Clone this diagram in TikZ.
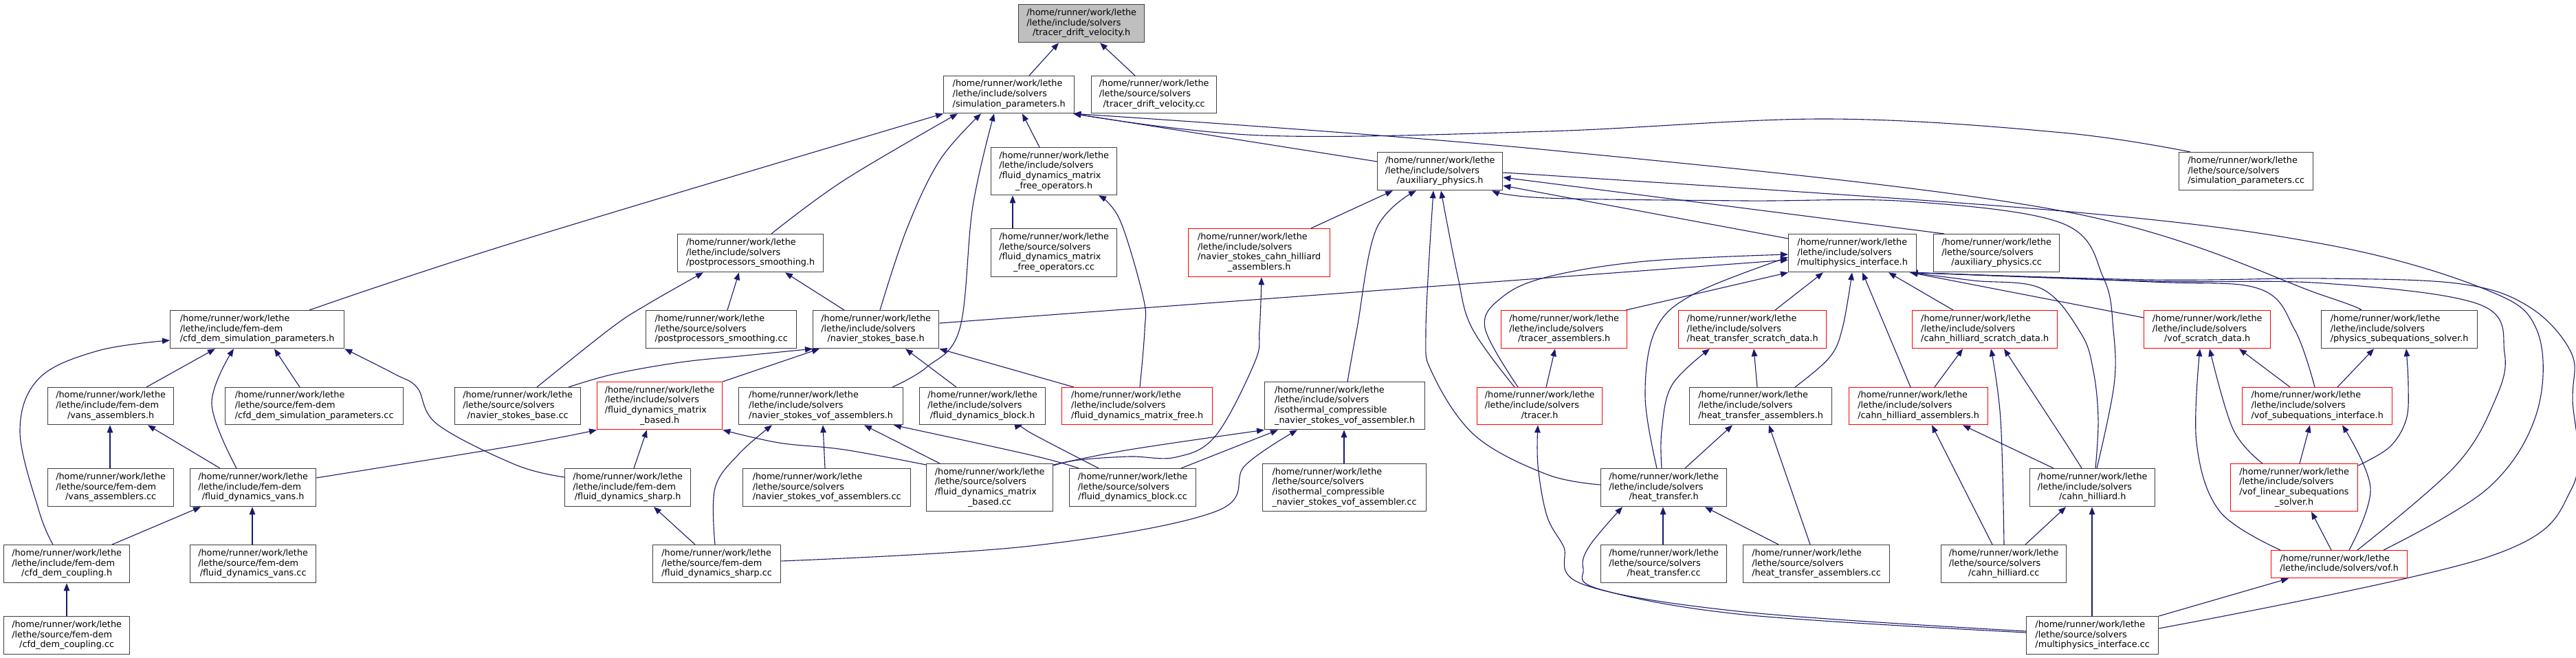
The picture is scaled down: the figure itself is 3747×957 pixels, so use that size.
\documentclass[tikz,border=0pt]{standalone}
\usepackage{fontspec}
\setmainfont{DejaVu Sans}
\usetikzlibrary{arrows.meta}
\definecolor{eblue}{HTML}{191970}
\definecolor{bgrey}{HTML}{404040}
\definecolor{fgrey}{HTML}{BFBFBF}
\newcommand\Lthree[2]{\begin{tabular}{@{}l@{}}/home/runner/work/lethe\\#1\\\multicolumn{1}{@{}c@{}}{#2}\end{tabular}}
\newcommand\Lfour[3]{\begin{tabular}{@{}l@{}}/home/runner/work/lethe\\#1\\#2\\\multicolumn{1}{@{}c@{}}{#3}\end{tabular}}
\newcommand\Ltwo[1]{\begin{tabular}{@{}l@{}}/home/runner/work/lethe\\\multicolumn{1}{@{}c@{}}{#1}\end{tabular}}
\pgfdeclarelayer{bg}
\pgfdeclarelayer{edges}
\pgfsetlayers{bg,edges,main}
\begin{document}
\begin{tikzpicture}[x=1pt,y=-1pt,
 box/.style={draw=bgrey, line width=1.3pt, fill=white, inner sep=0pt, anchor=north west,
   font=\fontsize{12.8}{14.7}\selectfont},
 rbox/.style={box, draw=red},
 wh/.style 2 args={minimum width=#1pt, minimum height=#2pt},
 dep/.style={draw=eblue, line width=1.1pt, -{Triangle[length=11pt,width=8.5pt]}},
 sm/.style={smooth, tension=0.6}]
\begin{pgfonlayer}{bg}
\fill[white] (0,0) rectangle (3747,957);
\end{pgfonlayer}
\useasboundingbox (0,0) rectangle (3747,957);

% nodes
\node[box, fill=fgrey, wh={183}{55}] (TDV) at (1481,6) {\Lthree{/lethe/include/solvers}{/tracer\_drift\_velocity.h}};
\node[box, wh={190}{54}] (SP) at (1372,110) {\Lthree{/lethe/include/solvers}{/simulation\_parameters.h}};
\node[box, wh={182}{54}] (TDVcc) at (1587,110) {\Lthree{/lethe/source/solvers}{/tracer\_drift\_velocity.cc}};
\node[box, wh={183}{69}] (FDMFO) at (1441,214) {\Lfour{/lethe/include/solvers}{/fluid\_dynamics\_matrix}{\_free\_operators.h}};
\node[box, wh={183}{70}] (FDMFOcc) at (1441,332) {\Lfour{/lethe/source/solvers}{/fluid\_dynamics\_matrix}{\_free\_operators.cc}};
\node[box, wh={182}{55}] (AP) at (2003,221) {\Lthree{/lethe/include/solvers}{/auxiliary\_physics.h}};
\node[box, wh={195}{55}] (SPcc) at (3169,221) {\Lthree{/lethe/source/solvers}{/simulation\_parameters.cc}};
\node[box, wh={212}{55}] (PPS) at (985,340) {\Lthree{/lethe/include/solvers}{/postprocessors\_smoothing.h}};
\node[rbox, wh={206}{70}] (NSCHA) at (1728,332) {\Lfour{/lethe/include/solvers}{/navier\_stokes\_cahn\_hilliard}{\_assemblers.h}};
\node[box, wh={186}{55}] (MI) at (2601,340) {\Lthree{/lethe/include/solvers}{/multiphysics\_interface.h}};
\node[box, wh={183}{55}] (APcc) at (2812,340) {\Lthree{/lethe/source/solvers}{/auxiliary\_physics.cc}};
\node[box, wh={253}{55}] (CDSP) at (247,451) {\Lthree{/lethe/include/fem-dem}{/cfd\_dem\_simulation\_parameters.h}};
\node[box, wh={219}{55}] (PPScc) at (939,451) {\Lthree{/lethe/source/solvers}{/postprocessors\_smoothing.cc}};
\node[box, wh={183}{55}] (NSB) at (1182,451) {\Lthree{/lethe/include/solvers}{/navier\_stokes\_base.h}};
\node[rbox, wh={183}{55}] (TA) at (2183,451) {\Lthree{/lethe/include/solvers}{/tracer\_assemblers.h}};
\node[rbox, wh={215}{55}] (HTSD) at (2441,451) {\Lthree{/lethe/include/solvers}{/heat\_transfer\_scratch\_data.h}};
\node[rbox, wh={211}{55}] (CHSD) at (2781,451) {\Lthree{/lethe/include/solvers}{/cahn\_hilliard\_scratch\_data.h}};
\node[rbox, wh={184}{55}] (VSD) at (3118,451) {\Lthree{/lethe/include/solvers}{/vof\_scratch\_data.h}};
\node[box, wh={227}{55}] (PSS) at (3376,451) {\Lthree{/lethe/include/solvers}{/physics\_subequations\_solver.h}};
\node[box, wh={183}{54}] (VA) at (69,563) {\Lthree{/lethe/include/fem-dem}{/vans\_assemblers.h}};
\node[box, wh={259}{54}] (CDSPcc) at (327,563) {\Lthree{/lethe/source/fem-dem}{/cfd\_dem\_simulation\_parameters.cc}};
\node[box, wh={183}{54}] (NSBcc) at (661,563) {\Lthree{/lethe/source/solvers}{/navier\_stokes\_base.cc}};
\node[rbox, wh={182}{69}] (FDMB) at (868,555) {\Lfour{/lethe/include/solvers}{/fluid\_dynamics\_matrix}{\_based.h}};
\node[box, wh={239}{54}] (NSVA) at (1074,563) {\Lthree{/lethe/include/solvers}{/navier\_stokes\_vof\_assemblers.h}};
\node[box, wh={183}{54}] (FDB) at (1337,563) {\Lthree{/lethe/include/solvers}{/fluid\_dynamics\_block.h}};
\node[rbox, wh={219}{54}] (FDMF) at (1544,563) {\Lthree{/lethe/include/solvers}{/fluid\_dynamics\_matrix\_free.h}};
\node[box, wh={233}{69}] (ICNSVA) at (1839,555) {\Lfour{/lethe/include/solvers}{/isothermal\_compressible}{\_navier\_stokes\_vof\_assembler.h}};
\node[rbox, wh={182}{54}] (TR) at (2148,563) {\Lthree{/lethe/include/solvers}{/tracer.h}};
\node[box, wh={207}{54}] (HTA) at (2457,563) {\Lthree{/lethe/include/solvers}{/heat\_transfer\_assemblers.h}};
\node[rbox, wh={202}{54}] (CHA) at (2689,563) {\Lthree{/lethe/include/solvers}{/cahn\_hilliard\_assemblers.h}};
\node[rbox, wh={218}{54}] (VSI) at (3261,563) {\Lthree{/lethe/include/solvers}{/vof\_subequations\_interface.h}};
\node[box, wh={183}{55}] (VAcc) at (69,681) {\Lthree{/lethe/source/fem-dem}{/vans\_assemblers.cc}};
\node[box, wh={183}{55}] (FDV) at (276,681) {\Lthree{/lethe/include/fem-dem}{/fluid\_dynamics\_vans.h}};
\node[box, wh={183}{55}] (FDS) at (821,681) {\Lthree{/lethe/include/fem-dem}{/fluid\_dynamics\_sharp.h}};
\node[box, wh={244}{55}] (NSVAcc) at (1080,681) {\Lthree{/lethe/source/solvers}{/navier\_stokes\_vof\_assemblers.cc}};
\node[box, wh={184}{69}] (FDMBcc) at (1347,674) {\Lfour{/lethe/source/solvers}{/fluid\_dynamics\_matrix}{\_based.cc}};
\node[box, wh={184}{55}] (FDBcc) at (1555,681) {\Lthree{/lethe/source/solvers}{/fluid\_dynamics\_block.cc}};
\node[box, wh={238}{69}] (ICNSVAcc) at (1836,674) {\Lfour{/lethe/source/solvers}{/isothermal\_compressible}{\_navier\_stokes\_vof\_assembler.cc}};
\node[box, wh={183}{55}] (HT) at (2328,681) {\Lthree{/lethe/include/solvers}{/heat\_transfer.h}};
\node[box, wh={182}{55}] (CH) at (2952,681) {\Lthree{/lethe/include/solvers}{/cahn\_hilliard.h}};
\node[rbox, wh={185}{69}] (VLSS) at (3244,674) {\Lfour{/lethe/include/solvers}{/vof\_linear\_subequations}{\_solver.h}};
\node[box, wh={183}{55}] (CDC) at (5,792) {\Lthree{/lethe/include/fem-dem}{/cfd\_dem\_coupling.h}};
\node[box, wh={183}{55}] (FDVcc) at (276,792) {\Lthree{/lethe/source/fem-dem}{/fluid\_dynamics\_vans.cc}};
\node[box, wh={186}{55}] (FDScc) at (949,792) {\Lthree{/lethe/source/fem-dem}{/fluid\_dynamics\_sharp.cc}};
\node[box, wh={183}{55}] (HTcc) at (2328,792) {\Lthree{/lethe/source/solvers}{/heat\_transfer.cc}};
\node[box, wh={213}{55}] (HTAcc) at (2535,792) {\Lthree{/lethe/source/solvers}{/heat\_transfer\_assemblers.cc}};
\node[box, wh={182}{55}] (CHcc) at (2823,792) {\Lthree{/lethe/source/solvers}{/cahn\_hilliard.cc}};
\node[rbox, wh={198}{40}] (VOF) at (3303,800) {\Ltwo{/lethe/include/solvers/vof.h}};
\node[box, wh={183}{55}] (CDCcc) at (5,896) {\Lthree{/lethe/source/fem-dem}{/cfd\_dem\_coupling.cc}};
\node[box, wh={192}{55}] (MIcc) at (2947,896) {\Lthree{/lethe/source/solvers}{/multiphysics\_interface.cc}};

\begin{pgfonlayer}{edges}
% root
\draw[dep] ([xshift=125pt]SP.north west) -- ([xshift=59pt]TDV.south west);
\draw[dep] ([xshift=64pt]TDVcc.north west) -- ([xshift=119pt]TDV.south west);
% to SP
\draw[dep] plot[sm] coordinates {([xshift=203pt]CDSP.north west) (750,352) (SP.south west)};
\draw[dep] plot[sm] coordinates {([xshift=137pt]PPS.north west) (1228,262) ([xshift=21pt]SP.south west)};
\draw[dep] plot[sm] coordinates {([xshift=98pt]NSB.north west) (1319,333) (1367,233) ([xshift=55pt]SP.south west)};
\draw[dep] plot[sm] coordinates {([xshift=224pt]NSVA.north west) (1348,534) (1396,478) (1415,300) ([xshift=74pt]SP.south west)};
\draw[dep] ([xshift=71pt]FDMFO.north west) -- ([xshift=115pt]SP.south west);
\draw[dep] ([yshift=-14pt]AP.north west) -- ([xshift=-2pt]SP.south east);
\draw[dep] plot[sm] coordinates {([xshift=17pt]SPcc.north west) (3000,193) (2657,173) (2250,191) (1835,197) ([xshift=-2pt]SP.south east)};
\draw[dep] plot[sm] coordinates {([xshift=56pt]PSS.north west) (3380,430) (3000,307) (2250,218) ([xshift=-2pt]SP.south east)};
% to AP
\draw[dep] plot[sm] coordinates {([xshift=121pt]ICNSVA.north west) (1974,477) (2002,333) ([xshift=57pt]AP.south west)};
\draw[dep] ([xshift=179pt]NSCHA.north west) -- ([xshift=23pt]AP.south west);
\draw[dep] plot[sm] coordinates {([yshift=-24pt]HT.north west) (2250,690) (2146,634) (2084,544) (2074,480) ([xshift=82pt]AP.south west)};
\draw[dep] plot[sm] coordinates {([xshift=55pt]TR.north west) (2141,477) (2120,400) ([xshift=93pt]AP.south west)};
\draw[dep] plot[sm] coordinates {([xshift=98pt]CH.north west) (3075,560) (3074,480) (3060,405) (3000,325) (2776,293) (2537,292) (2250,288) ([xshift=167pt]AP.south west)};
\draw[dep] plot[sm] coordinates {([xshift=164pt]VOF.north west) (3619,710) (3690,600) (3690,480) (3613,420) (3380,355) (3000,307) (2250,255) ([yshift=-32pt]AP.north east)};
\draw[dep] ([xshift=16pt]APcc.north west) -- ([yshift=-37pt]AP.north east);
\draw[dep] ([yshift=-7pt]MI.north west) -- ([yshift=-49pt]AP.north east);
% to MI
\draw[dep] ([yshift=-19pt]NSB.north east) -- ([yshift=-38pt]MI.north west);
\draw[dep] plot[sm] coordinates {([xshift=60pt]TR.north west) (2160,477) (2184,433) (2250,403) (2393,380) ([yshift=-30pt]MI.north west)};
\draw[dep] plot[sm] coordinates {([xshift=82pt]HT.north west) (2393,577) (2408,480) (2465,427) ([yshift=-34pt]MI.north west)};
\draw[dep] ([xshift=182pt]TA.north west) -- (MI.south west);
\draw[dep] ([xshift=141pt]HTSD.north west) -- ([xshift=51pt]MI.south west);
\draw[dep] plot[sm] coordinates {([xshift=154pt]HTA.north west) (2661,520) (2680,477) ([xshift=93pt]MI.south west)};
\draw[dep] plot[sm] coordinates {([xshift=90pt]CHA.north west) (2743,477) ([xshift=108pt]MI.south west)};
\draw[dep] ([xshift=60pt]CHSD.north west) -- ([xshift=146pt]MI.south west);
\draw[dep] ([yshift=-11pt]VSD.north west) -- ([xshift=-10pt]MI.south east);
\draw[dep] plot[sm] coordinates {([xshift=106pt]VSI.north west) (3338,480) (3286,420) (3130,410) ([xshift=-10pt]MI.south east)};
\draw[dep] plot[sm] coordinates {([xshift=126pt]VOF.north west) (3572,677) (3630,580) (3643,513) (3607,443) (3380,412) (3130,409) ([xshift=-10pt]MI.south east)};
\draw[dep] plot[sm] coordinates {([yshift=-18pt]MIcc.north east) (3619,810) (3741,710) (3742,580) (3740,513) (3680,447) (3580,413) (3380,405) (3130,407) ([xshift=-10pt]MI.south east)};
\draw[dep] plot[sm] coordinates {([xshift=96pt]CH.north west) (3052,610) (3045,540) (3027,485) (2970,420) (2870,408) ([xshift=-10pt]MI.south east)};
% PSS
\draw[dep] ([xshift=139pt]VSI.north west) -- ([xshift=77pt]PSS.south west);
\draw[dep] plot[sm] coordinates {([yshift=-3pt]VLSS.north east) (3476,650) (3500,610) (3503,560) ([xshift=124pt]PSS.south west)};
% VSD
\draw[dep] plot[sm] coordinates {([xshift=14pt]VOF.north west) (3229,744) (3195,644) ([xshift=82pt]VSD.south west)};
\draw[dep] plot[sm] coordinates {([xshift=47pt]VLSS.north west) (3248,624) ([xshift=96pt]VSD.south west)};
\draw[dep] ([xshift=70pt]VSI.north west) -- ([xshift=139pt]VSD.south west);
% VSI, VLSS, VOF
\draw[dep] ([xshift=101pt]VLSS.north west) -- ([xshift=99pt]VSI.south west);
\draw[dep] plot[sm] coordinates {([xshift=114pt]VOF.north west) (3448,710) ([xshift=146pt]VSI.south west)};
\draw[dep] ([xshift=88pt]VOF.north west) -- ([xshift=118pt]VLSS.south west);
\draw[dep] (MIcc.north east) -- ([xshift=26pt]VOF.south west);
% CHSD, CHA, CH
\draw[dep] ([xshift=125pt]CHA.north west) -- ([xshift=74pt]CHSD.south west);
\draw[dep] plot[sm] coordinates {([xshift=92pt]CHcc.north west) (2910,610) ([xshift=115pt]CHSD.south west)};
\draw[dep] plot[sm] coordinates {([xshift=76pt]CH.north west) (3000,637) (2939,544) ([xshift=134pt]CHSD.south west)};
\draw[dep] ([xshift=75pt]CHcc.north west) -- ([xshift=121pt]CHA.south west);
\draw[dep] ([xshift=35pt]CH.north west) -- ([xshift=166pt]CHA.south west);
\draw[dep] ([xshift=123pt]CHcc.north west) -- ([xshift=53pt]CH.south west);
\draw[dep] ([xshift=96pt]MIcc.north west) -- ([xshift=91pt]CH.south west);
% HTSD, HTA, HT, TR, TA
\draw[dep] plot[sm] coordinates {([xshift=89pt]HT.north west) (2417,627) (2432,560) ([xshift=46pt]HTSD.south west)};
\draw[dep] ([xshift=99pt]HTA.north west) -- ([xshift=110pt]HTSD.south west);
\draw[dep] ([xshift=123pt]HT.north west) -- ([xshift=63pt]HTA.south west);
\draw[dep] ([xshift=98pt]HTAcc.north west) -- ([xshift=116pt]HTA.south west);
\draw[dep] plot[sm] coordinates {([yshift=-24pt]MIcc.north west) (2537,894) (2327,857) (2303,827) (2312,794) ([xshift=32pt]HT.south west)};
\draw[dep] ([xshift=91pt]HTcc.north west) -- ([xshift=91pt]HT.south west);
\draw[dep] ([xshift=52pt]HTAcc.north west) -- ([xshift=152pt]HT.south west);
\draw[dep] plot[sm] coordinates {([yshift=-22pt]MIcc.north west) (2537,890) (2303,850) (2274,794) (2250,750) (2237,677) ([xshift=89pt]TR.south west)};
\draw[dep] ([xshift=101pt]TR.north west) -- ([xshift=79pt]TA.south west);
% NSCHA, ICNSVA
\draw[dep] plot[sm] coordinates {([yshift=-3pt]FDMBcc.north east) (1569,669) (1643,664) (1710,665) (1768,634) (1825,527) (1832,480) ([xshift=107pt]NSCHA.south west)};
\draw[dep] plot[sm] coordinates {([yshift=-2pt]FDMBcc.north east) (1643,654) (ICNSVA.south west)};
\draw[dep] ([xshift=163pt]FDBcc.north west) -- ([xshift=20pt]ICNSVA.south west);
\draw[dep] plot[sm] coordinates {([yshift=-24pt]FDScc.north east) (1500,794) (1768,744) (1811,677) ([xshift=48pt]ICNSVA.south west)};
\draw[dep] ([xshift=119pt]ICNSVAcc.north west) -- ([xshift=116pt]ICNSVA.south west);
% NSVA, FDB
\draw[dep] plot[sm] coordinates {([xshift=91pt]FDScc.north west) (1040,710) (1075,660) ([xshift=49pt]NSVA.south west)};
\draw[dep] ([xshift=120pt]NSVAcc.north west) -- ([xshift=123pt]NSVA.south west);
\draw[dep] ([xshift=20pt]FDMBcc.north west) -- ([xshift=183pt]NSVA.south west);
\draw[dep] plot[sm] coordinates {([xshift=14pt]FDBcc.north west) (1500,662) ([xshift=226pt]NSVA.south west)};
\draw[dep] plot[sm] coordinates {([xshift=43pt]FDBcc.north west) (1500,630) ([xshift=150pt]FDB.south west)};
% FDMB, FDS
\draw[dep] plot[sm] coordinates {([yshift=-14pt]FDV.north east) (750,648) (FDMB.south west)};
\draw[dep] ([xshift=101pt]FDS.north west) -- ([xshift=73pt]FDMB.south west);
\draw[dep] plot[sm] coordinates {([yshift=-2pt]FDMBcc.north west) (1228,654) (1133,644) (FDMB.south east)};
\draw[dep] ([xshift=62pt]FDScc.north west) -- ([xshift=130pt]FDS.south west);
% NSB
\draw[dep] plot[sm] coordinates {([xshift=166pt]NSBcc.north west) (893,544) (989,527) (1085,517) (NSB.south west)};
\draw[dep] (FDMB.north east) -- ([xshift=10pt]NSB.south west);
\draw[dep] ([xshift=54pt]FDB.north west) -- ([xshift=135pt]NSB.south west);
\draw[dep] ([xshift=18pt]FDMF.north west) -- (NSB.south east);
% PPS
\draw[dep] plot[sm] coordinates {([xshift=120pt]NSBcc.north west) (889,477) (941,443) ([xshift=38pt]PPS.south west)};
\draw[dep] ([xshift=119pt]PPScc.north west) -- ([xshift=90pt]PPS.south west);
\draw[dep] ([xshift=46pt]NSB.north west) -- ([xshift=157pt]PPS.south west);
% FDMFO
\draw[dep] ([xshift=32pt]FDMFOcc.north west) -- ([xshift=32pt]FDMFO.south west);
\draw[dep] plot[sm] coordinates {([xshift=114pt]FDMF.north west) (1665,480) (1663,433) (1629,320) ([xshift=157pt]FDMFO.south west)};
% CDSP
\draw[dep] plot[sm] coordinates {([xshift=72pt]CDC.north west) (57,744) (29,627) (57,550) (143,510) ([yshift=-44pt]CDSP.north west)};
\draw[dep] ([xshift=144pt]VA.north west) -- ([xshift=66pt]CDSP.south west);
\draw[dep] plot[sm] coordinates {([xshift=68pt]FDV.north west) (308,587) ([xshift=93pt]CDSP.south west)};
\draw[dep] ([xshift=109pt]CDSPcc.north west) -- ([xshift=152pt]CDSP.south west);
\draw[dep] plot[sm] coordinates {([yshift=-13pt]FDS.north west) (750,676) (636,617) (607,564) (574,544) (CDSP.south east)};
% VA, FDV, CDC
\draw[dep] ([xshift=91pt]VAcc.north west) -- ([xshift=91pt]VA.south west);
\draw[dep] ([xshift=44pt]FDV.north west) -- ([xshift=146pt]VA.south west);
\draw[dep] ([xshift=158pt]CDC.north west) -- ([xshift=16pt]FDV.south west);
\draw[dep] ([xshift=91pt]FDVcc.north west) -- ([xshift=91pt]FDV.south west);
\draw[dep] ([xshift=92pt]CDCcc.north west) -- ([xshift=92pt]CDC.south west);
\end{pgfonlayer}
\end{tikzpicture}
\end{document}
